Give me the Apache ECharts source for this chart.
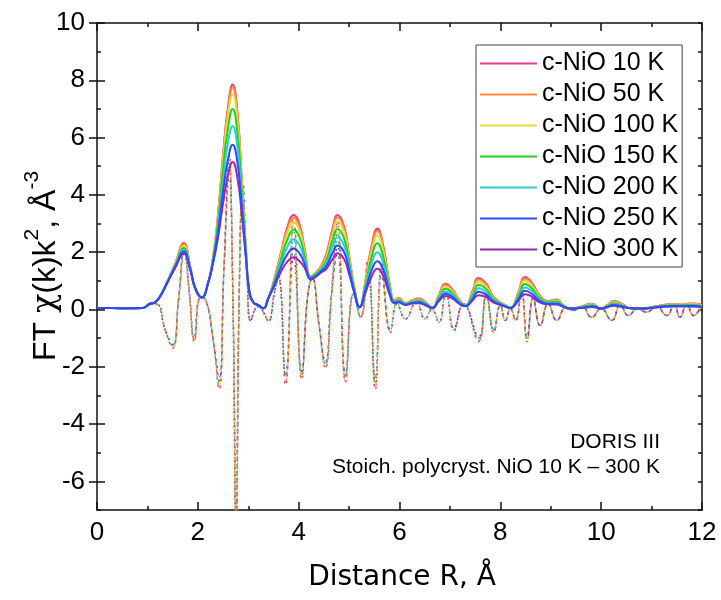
<!DOCTYPE html>
<html><head><meta charset="utf-8">
<script src="https://cdn.jsdelivr.net/npm/echarts@6/dist/echarts.min.js"></script>
<style>html,body{margin:0;padding:0;background:#fff}#c{width:721px;height:600px}</style>
</head><body><div id="c"></div>
<script>
// Temperatures / legend names
const names = ['c-NiO 10 K','c-NiO 50 K','c-NiO 100 K','c-NiO 150 K','c-NiO 200 K','c-NiO 250 K','c-NiO 300 K'];
const colors = ['#f0388f','#ff8a3a','#e4dc3c','#1ed21e','#2ecccc','#2a4cff','#9a26b4'];
// Magnitude |FT| grid (R, Å)
const R = [0,0.3,0.6,0.9,1.05,1.15,1.25,1.4,1.55,1.72,1.85,1.95,2.08,2.2,2.3,2.4,2.5,2.6,2.69,2.78,2.87,2.95,3.02,3.1,3.2,3.3,3.4,3.5,3.65,3.78,3.9,4.02,4.12,4.24,4.35,4.44,4.55,4.67,4.77,4.9,5.0,5.1,5.21,5.32,5.45,5.56,5.68,5.8,5.9,5.98,6.12,6.25,6.38,6.52,6.65,6.78,6.91,7.05,7.18,7.31,7.44,7.57,7.72,7.85,7.98,8.1,8.2,8.35,8.49,8.62,8.78,8.95,9.12,9.25,9.39,9.6,9.82,10.0,10.12,10.25,10.4,10.6,10.8,11.0,11.2,11.4,11.6,11.8,12.0];
const mag10 = [.05,.05,.04,.05,.2,.25,.45,1.0,1.6,2.32,1.5,.7,.42,.9,1.8,3.3,5.4,7.1,7.85,7.0,4.6,2.2,.6,.25,.15,.04,.4,.95,2.0,2.9,3.3,2.95,2.1,1.15,1.3,1.5,1.95,2.8,3.3,2.9,1.9,.8,.08,.95,2.25,2.83,2.2,.95,.32,.4,.22,.32,.38,.25,.06,.5,.9,.7,.35,.14,.6,1.1,.9,.48,.28,.15,.05,.55,1.13,.95,.5,.3,.35,.15,.03,.1,.2,.03,.15,.3,.2,.04,.03,.08,.15,.19,.19,.21,.17];
const mag50 = [.05,.05,.04,.05,.2,.25,.45,1.0,1.58,2.28,1.48,.7,.42,.9,1.78,3.27,5.34,7.0,7.75,6.9,4.55,2.2,.6,.25,.15,.04,.4,.93,1.95,2.82,3.2,2.87,2.05,1.14,1.29,1.48,1.9,2.72,3.22,2.83,1.86,.78,.08,.93,2.18,2.75,2.14,.92,.31,.38,.21,.31,.36,.24,.06,.48,.86,.67,.34,.14,.57,1.05,.86,.46,.27,.15,.05,.53,1.08,.91,.48,.29,.33,.14,.03,.1,.19,.03,.14,.28,.19,.04,.03,.08,.14,.18,.18,.2,.16];
const mag100 = [.05,.05,.04,.05,.2,.25,.45,.99,1.56,2.22,1.46,.71,.42,.9,1.76,3.2,5.2,6.8,7.5,6.7,4.45,2.15,.61,.25,.15,.04,.4,.9,1.88,2.68,3.05,2.74,1.98,1.13,1.27,1.45,1.82,2.6,3.08,2.7,1.79,.76,.08,.88,2.05,2.58,2.02,.87,.3,.36,.2,.29,.34,.22,.06,.45,.8,.63,.32,.13,.53,.97,.8,.43,.25,.14,.05,.49,1.0,.84,.44,.27,.31,.13,.03,.09,.17,.03,.13,.25,.17,.04,.03,.07,.13,.17,.17,.18,.15];
const mag150 = [.05,.05,.04,.05,.2,.25,.45,.98,1.53,2.15,1.44,.72,.42,.9,1.72,3.05,4.9,6.35,7.0,6.25,4.2,2.1,.62,.25,.15,.04,.4,.87,1.76,2.46,2.78,2.5,1.86,1.12,1.25,1.41,1.72,2.4,2.81,2.48,1.66,.72,.08,.8,1.85,2.31,1.82,.8,.28,.33,.19,.27,.31,.2,.05,.41,.72,.57,.29,.13,.47,.86,.71,.39,.23,.13,.05,.44,.89,.75,.4,.25,.28,.12,.03,.08,.15,.03,.12,.22,.15,.04,.03,.07,.12,.15,.15,.16,.13];
const mag200 = [.05,.05,.04,.05,.2,.25,.45,.97,1.5,2.08,1.42,.73,.42,.9,1.68,2.9,4.5,5.85,6.4,5.75,3.95,2.0,.63,.25,.15,.04,.4,.84,1.62,2.2,2.45,2.22,1.72,1.1,1.22,1.37,1.62,2.18,2.52,2.24,1.52,.68,.08,.72,1.62,2.0,1.6,.71,.26,.3,.18,.25,.28,.18,.05,.37,.63,.5,.26,.12,.41,.74,.61,.34,.21,.12,.05,.39,.77,.65,.35,.22,.24,.11,.03,.07,.13,.03,.1,.19,.13,.04,.03,.06,.11,.13,.13,.14,.12];
const mag250 = [.05,.05,.04,.05,.2,.25,.45,.96,1.48,2.02,1.4,.74,.42,.9,1.64,2.7,4.1,5.25,5.75,5.2,3.65,1.95,.64,.25,.15,.04,.4,.8,1.48,1.94,2.13,1.95,1.58,1.08,1.19,1.33,1.52,1.96,2.23,2.0,1.38,.64,.08,.64,1.38,1.68,1.37,.62,.24,.27,.17,.23,.25,.16,.05,.33,.55,.44,.23,.12,.35,.62,.52,.3,.19,.11,.05,.34,.65,.55,.3,.2,.2,.1,.03,.06,.11,.03,.09,.16,.11,.04,.03,.06,.1,.12,.12,.12,.1];
const mag300 = [.05,.05,.04,.05,.2,.25,.45,.95,1.45,1.95,1.38,.75,.42,.9,1.6,2.5,3.7,4.7,5.15,4.65,3.35,1.85,.65,.25,.15,.04,.4,.76,1.32,1.68,1.82,1.68,1.45,1.05,1.15,1.28,1.42,1.75,1.96,1.76,1.24,.6,.08,.56,1.16,1.42,1.16,.54,.22,.24,.16,.21,.22,.14,.05,.29,.47,.38,.2,.11,.3,.5,.43,.26,.17,.1,.05,.29,.53,.45,.25,.18,.17,.09,.03,.05,.09,.03,.08,.13,.09,.04,.03,.05,.09,.1,.1,.1,.09];
// Imaginary part grid (R, Å)
const RI = [0,0.5,0.9,1.08,1.2,1.35,1.5,1.62,1.73,1.83,1.93,2.05,2.15,2.3,2.42,2.52,2.62,2.69,2.76,2.82,2.89,2.97,3.05,3.15,3.22,3.3,3.4,3.52,3.6,3.74,3.9,4.06,4.18,4.27,4.4,4.53,4.65,4.77,4.93,5.09,5.23,5.37,5.52,5.65,5.82,5.95,6.12,6.33,6.51,6.64,6.78,6.92,7.08,7.27,7.57,7.72,7.87,8.0,8.1,8.2,8.3,8.42,8.53,8.65,8.79,8.95,9.12,9.3,9.45,9.62,9.81,10.0,10.21,10.38,10.54,10.72,10.9,11.1,11.3,11.45,11.56,11.7,11.83,12.0];
const im10 = [.05,.04,.05,.2,.18,-.7,-1.35,.4,2.3,.6,-1.12,.42,.35,-1.0,-2.8,1.5,5.4,1.0,-7.6,.5,4.5,1.5,-.4,.05,.1,-.1,-.4,.6,1.15,-2.65,3.3,-2.45,.5,1.1,-.5,-2.05,.5,3.1,-2.55,.55,-.27,1.8,-2.8,1.6,-.82,.2,-.33,.25,-.33,0,-.45,.6,-.75,.2,-1.12,.5,-.82,.15,-.38,.03,-.38,.6,-1.12,.4,-.56,.2,-.38,.05,-.03,.1,-.27,.03,-.38,.15,-.21,.02,-.09,.1,-.21,.15,-.27,.18,-.21,.15];
const im50 = [.05,.04,.05,.2,.18,-.7,-1.33,.4,2.26,.6,-1.1,.42,.35,-1.0,-2.75,1.5,5.35,1.0,-7.6,.5,4.45,1.5,-.4,.05,.1,-.1,-.4,.6,1.15,-2.6,3.2,-2.42,.5,1.1,-.5,-2.02,.5,3.0,-2.52,.55,-.27,1.75,-2.76,1.55,-.8,.2,-.33,.25,-.33,0,-.45,.6,-.74,.2,-1.1,.5,-.8,.15,-.38,.03,-.38,.6,-1.1,.4,-.56,.2,-.38,.05,-.03,.1,-.27,.03,-.38,.15,-.21,.02,-.09,.1,-.21,.15,-.27,.18,-.21,.15];
const im100 = [.05,.04,.05,.2,.18,-.7,-1.31,.4,2.2,.6,-1.08,.42,.35,-1.0,-2.7,1.5,5.3,1.0,-7.5,.5,4.4,1.5,-.4,.05,.1,-.1,-.4,.6,1.15,-2.55,3.05,-2.38,.5,1.1,-.5,-1.98,.5,2.9,-2.48,.55,-.27,1.7,-2.7,1.5,-.78,.2,-.33,.25,-.33,0,-.45,.6,-.73,.2,-1.08,.5,-.79,.15,-.38,.03,-.38,.6,-1.08,.4,-.56,.2,-.38,.05,-.03,.1,-.27,.03,-.38,.15,-.21,.02,-.09,.1,-.21,.15,-.27,.18,-.21,.15];
const im150 = [.05,.04,.05,.2,.18,-.7,-1.29,.4,2.14,.6,-1.06,.42,.35,-1.0,-2.62,1.5,5.2,1.0,-7.4,.5,4.3,1.5,-.4,.05,.1,-.1,-.4,.6,1.15,-2.48,2.78,-2.32,.5,1.1,-.5,-1.94,.5,2.7,-2.42,.55,-.27,1.6,-2.62,1.42,-.76,.2,-.33,.25,-.33,0,-.45,.6,-.72,.2,-1.05,.5,-.77,.15,-.38,.03,-.38,.6,-1.05,.4,-.56,.2,-.38,.05,-.03,.1,-.27,.03,-.38,.15,-.21,.02,-.09,.1,-.21,.15,-.27,.18,-.21,.15];
const im200 = [.05,.04,.05,.2,.18,-.7,-1.27,.4,2.08,.6,-1.04,.42,.35,-1.0,-2.55,1.5,5.1,1.0,-7.3,.5,4.2,1.5,-.4,.05,.1,-.1,-.4,.6,1.15,-2.4,2.45,-2.26,.5,1.1,-.5,-1.9,.5,2.45,-2.36,.55,-.27,1.5,-2.55,1.35,-.74,.2,-.33,.25,-.33,0,-.45,.6,-.7,.2,-1.02,.5,-.75,.15,-.38,.03,-.38,.6,-1.02,.4,-.56,.2,-.38,.05,-.03,.1,-.27,.03,-.38,.15,-.21,.02,-.09,.1,-.21,.15,-.27,.18,-.21,.15];
const im250 = [.05,.04,.05,.2,.18,-.7,-1.25,.4,2.02,.6,-1.02,.42,.35,-1.0,-2.48,1.5,5.0,1.0,-7.2,.5,4.0,1.5,-.4,.05,.1,-.1,-.4,.6,1.15,-2.32,2.13,-2.2,.5,1.1,-.5,-1.86,.5,2.2,-2.3,.55,-.27,1.4,-2.48,1.28,-.72,.2,-.33,.25,-.33,0,-.45,.6,-.68,.2,-.99,.5,-.73,.15,-.38,.03,-.38,.6,-.99,.4,-.56,.2,-.38,.05,-.03,.1,-.27,.03,-.38,.15,-.21,.02,-.09,.1,-.21,.15,-.27,.18,-.21,.15];
const im300 = [.05,.04,.05,.2,.18,-.7,-1.22,.4,1.95,.6,-1.0,.42,.35,-1.0,-2.4,1.5,4.6,1.0,-7.1,.5,3.8,1.5,-.4,.05,.1,-.1,-.4,.6,1.15,-2.25,1.82,-2.15,.5,1.1,-.5,-1.82,.5,1.95,-2.25,.55,-.27,1.3,-2.4,1.2,-.7,.2,-.33,.25,-.33,0,-.45,.6,-.66,.2,-.95,.5,-.7,.15,-.38,.03,-.38,.6,-.95,.4,-.56,.2,-.38,.05,-.03,.1,-.27,.03,-.38,.15,-.21,.02,-.09,.1,-.21,.15,-.27,.18,-.21,.15];
const xTicks = [0,2,4,6,8,10,12];
const yTicks = [-6,-4,-2,0,2,4,6,8,10];

const mags = [mag10,mag50,mag100,mag150,mag200,mag250,mag300];
const ims = [im10,im50,im100,im150,im200,im250,im300];
const pair = (xs, ys) => xs.map((x, i) => [x, ys[i]]);

const series = [];
const imOrder = [6,5,4,3,2,1,0];
imOrder.forEach((i, k) => series.push({
  name: 'Im ' + names[i], type: 'line', data: pair(RI, ims[i]), showSymbol: false,
  smooth: 0.5, z: 2, silent: true,
  lineStyle: { color: colors[i], width: 1.4, type: [2, 5], dashOffset: k * 0.6 },
  itemStyle: { color: colors[i] }
}));
const order = [0,1,2,3,4,6,5];
order.forEach(i => series.push({
  name: names[i], type: 'line', data: pair(R, mags[i]), showSymbol: false,
  smooth: 0.5, z: 3,
  lineStyle: { color: colors[i], width: 2 }, itemStyle: { color: colors[i] }
}));

const axLine = { show: true, onZero: false, lineStyle: { color: '#111', width: 1.5 } };
const tickStyle = { color: '#111', width: 1.5 };
const lab = { color: '#000', fontSize: 26, fontFamily: 'Liberation Sans, Arial, sans-serif' };

const option = {
  animation: false,
  backgroundColor: '#fff',
  grid: { left: 97, right: 19, top: 23, bottom: 90 },
  legend: {
    data: names, orient: 'vertical', left: 476, top: 45,
    padding: [6, 4, 5, 4], itemGap: 6, itemWidth: 57, itemHeight: 2, icon: 'rect',
    borderColor: '#444', borderWidth: 1, backgroundColor: '#fff',
    textStyle: { fontSize: 25, lineHeight: 25, color: '#000', fontFamily: 'Liberation Sans, Arial, sans-serif' }
  },
  xAxis: [
    { type: 'value', min: 0, max: 12, interval: 2, position: 'bottom', axisLine: axLine,
      axisTick: { inside: true, length: 8, lineStyle: tickStyle },
      minorTick: { show: true, splitNumber: 2, length: 4, lineStyle: tickStyle },
      axisLabel: Object.assign({ margin: 10, customValues: xTicks }, lab), splitLine: { show: false } },
    { type: 'value', min: 0, max: 12, interval: 2, position: 'top', axisLine: axLine,
      axisTick: { inside: true, length: 8, lineStyle: tickStyle },
      minorTick: { show: true, splitNumber: 2, length: 4, lineStyle: tickStyle },
      axisLabel: { show: false }, splitLine: { show: false } }
  ],
  yAxis: [
    { type: 'value', min: -7, max: 10, interval: 1, position: 'left', axisLine: axLine,
      axisTick: { inside: true, length: 4, lineStyle: tickStyle },
      axisLabel: Object.assign({ margin: 12, formatter: v => (Math.round(v) % 2 === 0 ? String(v) : '') }, lab),
      splitLine: { show: false } },
    { type: 'value', min: -7, max: 10, position: 'left', axisLine: { show: false },
      axisTick: { inside: true, length: 8, lineStyle: tickStyle, customValues: yTicks },
      axisLabel: { show: false }, splitLine: { show: false } },
    { type: 'value', min: -7, max: 10, interval: 1, position: 'right', axisLine: axLine,
      axisTick: { inside: true, length: 4, lineStyle: tickStyle },
      axisLabel: { show: false }, splitLine: { show: false } },
    { type: 'value', min: -7, max: 10, position: 'right', axisLine: { show: false },
      axisTick: { inside: true, length: 8, lineStyle: tickStyle, customValues: yTicks },
      axisLabel: { show: false }, splitLine: { show: false } }
  ],
  graphic: [
    { type: 'text', x: 660, y: 442, style: { text: 'DORIS III', align: 'right', verticalAlign: 'middle', fill: '#000', font: '21px "Liberation Sans", Arial, sans-serif' } },
    { type: 'text', x: 660, y: 467, style: { text: 'Stoich. polycryst. NiO 10 K \u2013 300 K', align: 'right', verticalAlign: 'middle', fill: '#000', font: '21px "Liberation Sans", Arial, sans-serif' } },
    { type: 'text', x: 402, y: 578, style: { text: 'Distance R, \u00c5', align: 'center', verticalAlign: 'middle', fill: '#000', font: '28px "DejaVu Sans", sans-serif' } },
    { type: 'text', x: 42, y: 266, rotation: Math.PI / 2,
      style: { text: '{a|FT }{g|\u03c7}{a|(k)k}{s|2}{a|, \u00c5}{s|-3}', align: 'center', verticalAlign: 'middle', fill: '#000',
        rich: {
          a: { fontSize: 32, fontFamily: 'Liberation Sans', lineHeight: 40, verticalAlign: 'bottom' },
          g: { fontSize: 32, fontFamily: 'DejaVu Serif', lineHeight: 40, verticalAlign: 'bottom' },
          s: { fontSize: 21, fontFamily: 'Liberation Sans', lineHeight: 40, verticalAlign: 'top' }
        } } }
  ],
  series: series
};
const chart = echarts.init(document.getElementById('c'), null, { renderer: 'canvas' });
chart.setOption(option);
</script></body></html>
